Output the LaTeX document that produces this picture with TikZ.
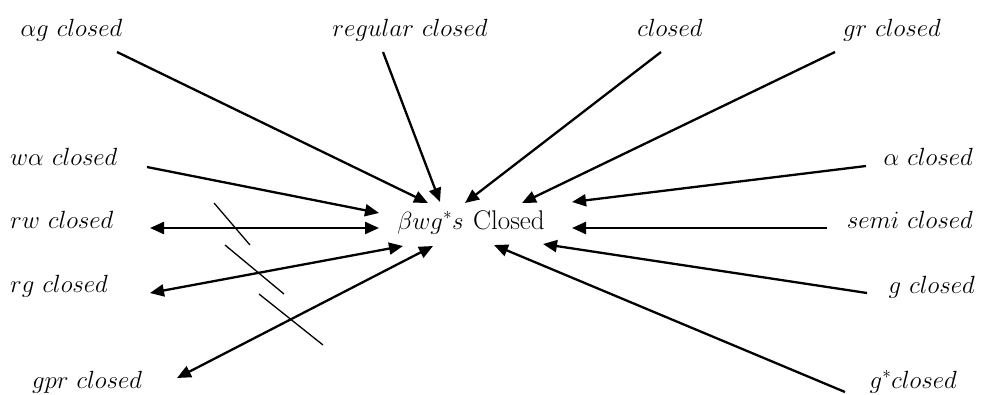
\documentclass[tikz,border=0pt]{standalone}
\usetikzlibrary{arrows.meta}
\begin{document}
\begin{tikzpicture}[x=1pt,y=-1pt,
  lbl/.style={font=\fontsize{27}{32}\selectfont, inner sep=0pt},
  arr/.style={line width=2.3pt, -{Triangle[length=14pt,width=12pt]}},
  darr/.style={line width=2.3pt, {Triangle[length=14pt,width=12pt]}-{Triangle[length=14pt,width=12pt]}},
  negline/.style={line width=1.3pt}]
\useasboundingbox (0,0) rectangle (981,394);
% labels
\node[lbl, anchor=base] (ag) at (71.5,36) {$\alpha g\ closed$};
\node[lbl, anchor=base] (reg) at (410,36) {$regular\ closed$};
\node[lbl, anchor=base] (cl) at (670,36) {$closed$};
\node[lbl, anchor=base] (gr) at (892,36) {$gr\ closed$};
\node[lbl, anchor=base west] (wa) at (10,165) {$w\alpha\ closed$};
\node[lbl, anchor=base west] (rw) at (10,228) {$rw\ closed$};
\node[lbl, anchor=base west] (rg) at (10,292) {$rg\ closed$};
\node[lbl, anchor=base west] (gpr) at (32,388) {$gpr\ closed$};
\node[lbl, anchor=base east] (al) at (973,165) {$\alpha\ closed$};
\node[lbl, anchor=base east] (semi) at (973,228) {$semi\ closed$};
\node[lbl, anchor=base east] (gc) at (975,293) {$g\ closed$};
\node[lbl, anchor=base east] (gs) at (957,388) {$g^{*}closed$};
\node[lbl, anchor=base] (c) at (471,229) {$\beta w g^{*} s$\hspace{0.35em}Closed};
% connector ends
\coordinate (ag1) at (117,52);   \coordinate (ag2) at (428,203);
\coordinate (reg1) at (383,52);  \coordinate (reg2) at (440,202);
\coordinate (cl1) at (661,52);   \coordinate (cl2) at (465,203);
\coordinate (gr1) at (835,52);   \coordinate (gr2) at (522,203);
\coordinate (wa1) at (147,167);  \coordinate (wa2) at (379,213);
\coordinate (rw1) at (150,228);  \coordinate (rw2) at (379,228);
\coordinate (rg1) at (150,293);  \coordinate (rg2) at (403,246);
\coordinate (gpr1) at (177,378); \coordinate (gpr2) at (433,246);
\coordinate (al1) at (866,166);  \coordinate (al2) at (572,202);
\coordinate (semi1) at (827,228); \coordinate (semi2) at (572,228);
\coordinate (gc1) at (867,293);  \coordinate (gc2) at (543,244);
\coordinate (gs1) at (845,392);  \coordinate (gs2) at (494,245);
\coordinate (n1a) at (214,203); \coordinate (n1b) at (250,245);
\coordinate (n2a) at (225,245); \coordinate (n2b) at (284,294);
\coordinate (n3a) at (259,294); \coordinate (n3b) at (323,345);
% arrows
\draw[arr] (ag1) -- (ag2);
\draw[arr] (reg1) -- (reg2);
\draw[arr] (cl1) -- (cl2);
\draw[arr] (gr1) -- (gr2);
\draw[arr] (wa1) -- (wa2);
\draw[darr] (rw1) -- (rw2);
\draw[darr] (rg1) -- (rg2);
\draw[darr] (gpr1) -- (gpr2);
\draw[arr] (al1) -- (al2);
\draw[arr] (semi1) -- (semi2);
\draw[arr] (gc1) -- (gc2);
\draw[arr] (gs1) -- (gs2);
% negation strokes
\draw[negline] (n1a) -- (n1b);
\draw[negline] (n2a) -- (n2b);
\draw[negline] (n3a) -- (n3b);
\end{tikzpicture}
\end{document}
